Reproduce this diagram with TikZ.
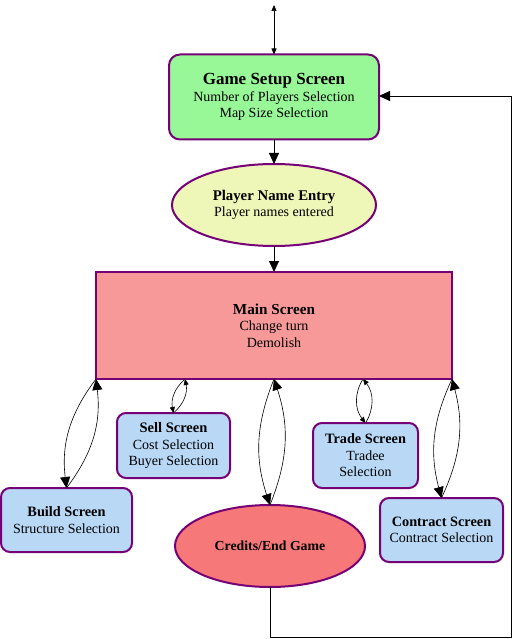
\documentclass[tikz,border=0pt]{standalone}
\usepackage{fontspec}
\setmainfont{Liberation Serif}
\usetikzlibrary{arrows.meta,shapes.geometric}
\definecolor{bord}{HTML}{760076}
\definecolor{cgreen}{HTML}{98F898}
\definecolor{cyellow}{HTML}{EEF6B8}
\definecolor{cmain}{HTML}{F79999}
\definecolor{cred}{HTML}{F77878}
\definecolor{cblue}{HTML}{B8D8F6}
\newcommand{\ttl}[2]{{\fontsize{#1}{16.5}\selectfont\textbf{#2}}}
\tikzset{
  base/.style={draw=bord, line width=2pt, inner sep=0pt, outer sep=0pt, align=center,
    font=\fontsize{14}{16.5}\selectfont},
  rbox/.style={base, rounded corners=11pt},
  ebox/.style={base, ellipse},
  big/.style={-{Triangle[length=11pt,width=10pt]}, line width=0.8pt},
  curv/.style={-{Triangle[length=11pt,width=10pt]}, line width=0.6pt},
  scurv/.style={-{Triangle[length=6pt,width=5pt]}, line width=0.6pt},
}
\begin{document}
\begin{tikzpicture}[x=1pt,y=-1pt]
\useasboundingbox (0,0) rectangle (512,639);
\fill[white] (0,0) rectangle (512,639);

\node[rbox, fill=cgreen, minimum width=210, minimum height=85] (setup) at (274,97)
  {\ttl{17}{Game Setup Screen}\\Number of Players Selection\\Map Size Selection};
\node[ebox, fill=cyellow, minimum width=204, minimum height=82] (player) at (274,205)
  {\ttl{14.8}{Player Name Entry}\\Player names entered};
\node[base, fill=cmain, minimum width=356, minimum height=107] (main) at (274,325.5)
  {\ttl{15.2}{Main Screen}\\Change turn\\Demolish};
\node[rbox, rounded corners=9pt, fill=cblue, minimum width=113, minimum height=65] (sell) at (173.5,445.5)
  {\ttl{14.5}{Sell Screen}\\Cost Selection\\Buyer Selection};
\node[rbox, rounded corners=9pt, fill=cblue, minimum width=131, minimum height=64] (build) at (66.5,520)
  {\ttl{14.3}{Build Screen}\\Structure Selection};
\node[ebox, fill=cred, minimum width=190, minimum height=82] (credits) at (270,546)
  {\ttl{13.8}{Credits/End Game}};
\node[rbox, rounded corners=9pt, fill=cblue, minimum width=105, minimum height=65] (trade) at (365.5,455.5)
  {\ttl{14.3}{Trade Screen}\\Tradee\\Selection};
\node[rbox, rounded corners=9pt, fill=cblue, minimum width=123, minimum height=64] (contract) at (441.5,530)
  {\ttl{14.3}{Contract Screen}\\Contract Selection};

% points on the main screen's lower side
\coordinate (mBuild) at (main.south west);
\coordinate (mSell) at (185,379);
\coordinate (mCred) at (main.south);
\coordinate (mTrade) at (363,379);
\coordinate (mContr) at (main.south east);
\coordinate (topEnd) at (274,5);
\coordinate (c1) at (270,637);
\coordinate (c2) at (511,637);
\coordinate (c3) at (511,96);

% top arrow
\draw[{Triangle[length=6pt,width=5pt]}-{Triangle[length=6pt,width=5pt]}, line width=0.7pt] (topEnd) -- (setup.north);

\draw[big] (setup) -- (player);
\draw[big] (player) -- (main);

\draw[curv] (mBuild) to[bend right=22] (build.north);
\draw[curv] (build.north) to[bend right=22] (mBuild);

\draw[scurv] (mSell) to[bend right=30] (sell.north);
\draw[scurv] (sell.north) to[bend right=30] (mSell);

\draw[curv] (mCred) to[bend right=20] (credits.north);
\draw[curv] (credits.north) to[bend right=20] (mCred);

\draw[scurv] (mTrade) to[bend right=35] (trade.north);
\draw[scurv] (trade.north) to[bend right=35] (mTrade);

\draw[curv] (mContr) to[bend right=20] (contract.north);
\draw[curv] (contract.north) to[bend right=20] (mContr);

\draw[big] (credits.south) -- (c1) -- (c2) -- (c3) -- (setup.east |- c3);
\end{tikzpicture}
\end{document}
